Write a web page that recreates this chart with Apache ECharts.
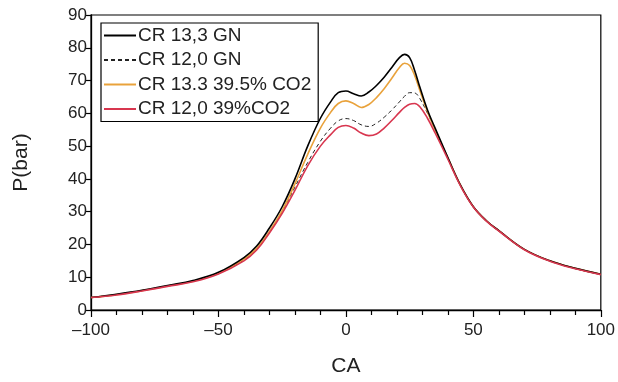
<!DOCTYPE html>
<html>
<head>
<meta charset="utf-8">
<script src="https://cdn.jsdelivr.net/npm/echarts@6/dist/echarts.min.js"></script>
<style>html,body{margin:0;padding:0;background:#fff}#c{width:618px;height:382px}</style>
</head>
<body>
<div id="c"></div>
<script>
const ca = [-100,-90,-80,-70,-60,-50,-40,-35,-30,-25,-20,-15,-10,-6,-3,0,3,6,9,12,15,18,21,23,25,27,29,32,35,40,45,50,55,60,70,80,90,100];
const cr133GN  = [3.8,4.8,6.0,7.5,9.0,11.5,16,19.5,25,31.5,40,50,58.5,63.5,66.3,66.8,66,65.3,66.5,68.5,71,74,77,78,77,73,68,61,55.5,46.5,38,31.5,27.3,24.2,18.5,15,12.7,10.9];
const cr120GN  = [3.8,4.7,5.9,7.3,8.8,11.2,15.3,18.6,23.8,30,37.5,45,51.5,55.5,57.7,58.4,57.8,56.5,56,57,58.8,61,63.5,65.2,66.3,66.2,64.5,60,55,46.3,37.9,31.5,27.3,24.2,18.5,15,12.7,10.9];
const cr133CO2 = [3.8,4.7,5.9,7.3,8.8,11.2,15.5,18.8,24,30.3,38.5,47.5,55.5,60.3,63,63.8,63,61.8,62.7,64.8,67.5,70.7,74,75.3,74.6,71.5,67,60.5,55,46.4,38,31.5,27.3,24.2,18.5,15,12.7,10.9];
const cr120CO2 = [3.8,4.6,5.8,7.2,8.6,11.0,15.0,18.3,23.5,29.5,36.5,44,50,53.5,55.7,56.3,55.5,54,53.2,53.7,55.5,57.8,60.3,61.8,62.8,63,62,58.5,54,46,37.8,31.4,27.2,24.1,18.4,14.9,12.6,10.8];
const names = ['CR 13,3 GN','CR 12,0 GN','CR 13.3 39.5% CO2','CR 12,0 39%CO2'];
const yTicks = [0,10,20,30,40,50,60,70,80,90];
const xTicks = [-100,-50,0,50,100];

const pairs = v => ca.map((x,i)=>[x,v[i]]);
const chart = echarts.init(document.getElementById('c'));
const font = 'Liberation Sans, Arial, sans-serif';
chart.setOption({
  animation:false,
  backgroundColor:'#fff',
  grid:{left:91,top:15,width:511,height:299,show:true,borderColor:'#000',borderWidth:1.2,backgroundColor:'transparent'},
  legend:{
    orient:'vertical',left:101,top:23,
    backgroundColor:'#fff',borderColor:'#000',borderWidth:1.2,
    padding:[3,7,3,2],itemGap:5.5,itemWidth:32,itemHeight:14,
    itemStyle:{opacity:0},
    textStyle:{fontFamily:font,fontSize:19,color:'#222',lineHeight:19,padding:[0,0,0,-3]},
    data:names
  },
  xAxis:{
    type:'value',min:-100,max:100,interval:50,
    name:'CA',nameLocation:'middle',nameGap:46,
    nameTextStyle:{fontFamily:font,fontSize:21,color:'#222'},
    axisLine:{show:true,onZero:false,lineStyle:{color:'#000',width:1.3}},
    axisTick:{show:true,length:7,lineStyle:{color:'#000',width:1.2}},
    minorTick:{show:true,splitNumber:5,length:5,lineStyle:{color:'#000',width:1.2}},
    splitLine:{show:false},
    axisLabel:{fontFamily:font,fontSize:17,color:'#222',margin:12,formatter:v=>xTicks.includes(v)?String(v).replace('-','\u2013'):''}
  },
  yAxis:{
    type:'value',min:0,max:90,interval:10,
    name:'P(bar)',nameLocation:'middle',nameGap:59,
    nameTextStyle:{fontFamily:font,fontSize:21,color:'#222'},
    axisLine:{show:true,onZero:false,lineStyle:{color:'#000',width:1.3}},
    axisTick:{show:true,length:5,lineStyle:{color:'#000',width:1.2}},
    splitLine:{show:false},
    axisLabel:{fontFamily:font,fontSize:17,color:'#222',margin:4,formatter:v=>yTicks.includes(v)?String(v):''}
  },
  series:[
    {name:names[0],type:'line',data:pairs(cr133GN),smooth:0.4,symbol:'none',z:4,lineStyle:{color:'#000',width:1.6},itemStyle:{color:'#000'}},
    {name:names[1],type:'line',data:pairs(cr120GN),smooth:0.4,symbol:'none',z:3,lineStyle:{color:'#222',width:1,type:[4,3]},itemStyle:{color:'#222'}},
    {name:names[2],type:'line',data:pairs(cr133CO2),smooth:0.4,symbol:'none',z:3,lineStyle:{color:'#e9a23b',width:1.6},itemStyle:{color:'#e9a23b'}},
    {name:names[3],type:'line',data:pairs(cr120CO2),smooth:0.4,symbol:'none',z:5,lineStyle:{color:'#d8364f',width:1.6},itemStyle:{color:'#d8364f'}}
  ]
});
</script>
</body>
</html>
